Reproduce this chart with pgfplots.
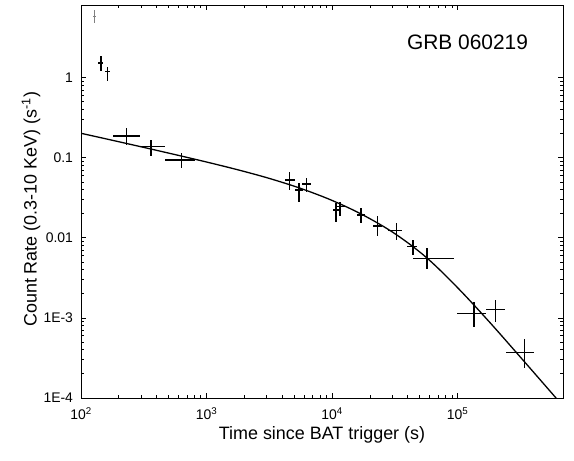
\documentclass[border=0pt]{standalone}
\usepackage{pgfplots}
\pgfplotsset{compat=1.18}
\usepackage{pgfplotstable}
\usepackage{fontspec}
\setmainfont{Liberation Sans}
\pgfplotstableread{
x y xm xp ym yp
144 1.53 6.5 6.6 0.33 0.32
163 1.2 8 7 0.3 0.18
231 0.188 50 64 0.043 0.049
361 0.139 66 106 0.034 0.029
634 0.094 167 175 0.020 0.021
4570 0.053 350 500 0.0132 0.0144
5460 0.0398 390 440 0.0114 0.0092
6280 0.0473 480 520 0.0094 0.0084
10770 0.0224 630 660 0.0064 0.005
11590 0.0247 650 1120 0.0059 0.0037
17000 0.0194 1080 1320 0.0041 0.0041
23100 0.0141 1800 1800 0.0034 0.0044
32400 0.01234 4300 3500 0.0029 0.00316
44000 0.00778 4600 3300 0.00165 0.00166
56800 0.00557 12800 36900 0.00151 0.00186
135000 0.001145 36400 33700 0.00038 0.000455
201000 0.001285 32300 39000 0.000385 0.000395
340000 0.000368 97000 68000 0.000133 0.000174
}\datatab
\pgfplotstableread{
x y xm xp ym yp
127 5.8 3 4 0.93 1.28
}\greytab
\pgfplotstableread{
x y
100 0.2024
177.8 0.1655
316.2 0.1349
562.3 0.1096
1000 0.08859
1778 0.07078
3162 0.05526
5623 0.04145
10000 0.02933
17783 0.01917
31623 0.01128
56234 0.005700
100000 0.002380
177828 0.000900
316228 0.0003234
562341 0.0001148
1000000 0.0000407
}\fittab
\begin{document}
\begin{tikzpicture}
\begin{axis}[
  scale only axis,
  width=482bp, height=393bp,
  xmode=log, ymode=log,
  xmin=100, xmax=690000,
  ymin=1e-4, ymax=8.1,
  xtick={100,1000,10000,100000},
  xticklabels={10\textsuperscript{2},10\textsuperscript{3},10\textsuperscript{4},10\textsuperscript{5}},
  ytick={1e-4,1e-3,0.01,0.1,1},
  yticklabels={1E-4,1E-3,0.01,0.1,1},
  tick align=inside,
  major tick length=5bp,
  minor tick length=3bp,
  every tick/.style={black, line width=0.8pt},
  axis line style={line width=1pt},
  tick label style={font=\fontsize{14}{16}\selectfont},
  xticklabel style={yshift=-6bp},
  yticklabel style={xshift=-4.5bp},
  label style={font=\fontsize{18}{20}\selectfont},
  xlabel={Time since BAT trigger (s)},
  ylabel={Count Rate (0.3-10 KeV) (s\textsuperscript{-1})},
  xlabel style={at={(axis description cs:0.5,-0.1054)}, anchor=base},
  ylabel style={at={(axis description cs:-0.092,0.48)}, anchor=base},
  clip=true,
]
\addplot[no marks, line width=1.3pt, smooth, tension=0.55] table[x=x, y=y] {\fittab};
\addplot[draw=none, mark=none,
  error bars/.cd, x dir=both, y dir=both, x explicit, y explicit,
  error mark=none, error bar style={line width=1.4pt, black}]
  table[x=x, y=y, x error plus=xp, x error minus=xm, y error plus=yp, y error minus=ym] {\datatab};
\addplot[draw=none, mark=none,
  error bars/.cd, x dir=both, y dir=both, x explicit, y explicit,
  error mark=none, error bar style={line width=1pt, gray}]
  table[x=x, y=y, x error plus=xp, x error minus=xm, y error plus=yp, y error minus=ym] {\greytab};
\node[font=\fontsize{21}{24}\selectfont] at (rel axis cs:0.802,0.906) {GRB 060219};
\end{axis}
\pgfresetboundingbox
\path (current axis.south west) ++(-81bp,-63bp) coordinate (bl);
\path (current axis.north east) ++(11bp,5bp) coordinate (tr);
\path[use as bounding box] (bl) rectangle (tr);
\end{tikzpicture}
\end{document}
